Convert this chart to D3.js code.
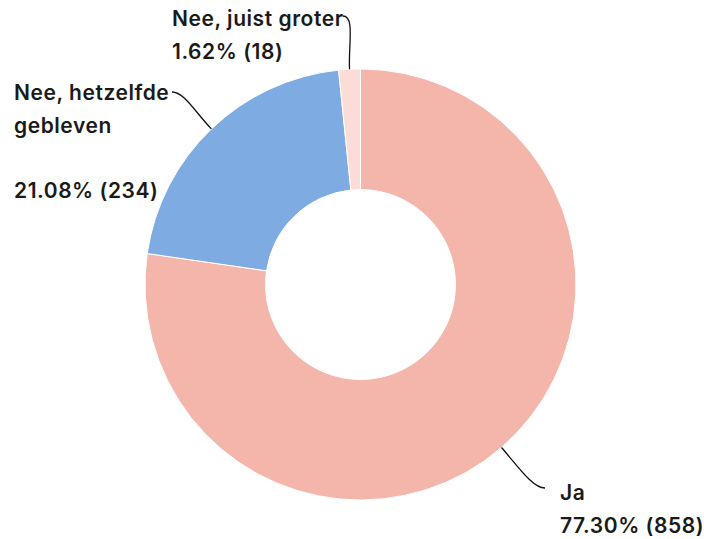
<!DOCTYPE html>
<html>
<head>
<meta charset="utf-8">
<script src="https://cdn.jsdelivr.net/npm/d3@7"></script>
<style>
  html, body { margin: 0; padding: 0; background: #fff; }
  svg text { font-family: Inter, Lato, sans-serif; font-weight: 600; font-size: 21px; letter-spacing: 0.55px; fill: #1a1a1a; }
</style>
</head>
<body>
<svg id="chart" width="704" height="539"></svg>
<script>
// Survey answers, in drawing order (clockwise from 12 o'clock)
const categories = ["Ja", "Nee, hetzelfde gebleven", "Nee, juist groter"];
const counts = [858, 234, 18];
const percentages = ["77.30%", "21.08%", "1.62%"];
const colors = ["#f4b5aa", "#7eabe2", "#fcdcd6"];

// Label text lines per slice (empty string = blank line)
const labelLines = [
  ["Ja", "77.30% (858)"],
  ["Nee, hetzelfde", "gebleven", "", "21.08% (234)"],
  ["Nee, juist groter", "1.62% (18)"]
];

const svg = d3.select("#chart");
const cx = 360.5, cy = 284.5;
const outerR = 215.5, innerR = 95;

const pie = d3.pie().sort(null).value(d => d);
const arcs = pie(counts);
const arc = d3.arc().innerRadius(innerR).outerRadius(outerR);

const g = svg.append("g").attr("transform", `translate(${cx},${cy})`);

g.selectAll("path.slice")
  .data(arcs)
  .join("path")
  .attr("class", "slice")
  .attr("d", arc)
  .attr("fill", (d, i) => colors[i])
  .attr("stroke", "#fff")
  .attr("stroke-width", 1);

// Label placement: baseline of first line and leader-line end point
const labelPos = [
  { x: 560, y: 500, lx: 545, ly: 488, side: "left" },
  { x: 14, y: 100, lx: 172, ly: 92, side: "right" },
  { x: 172, y: 26, lx: 343, ly: 16, side: "right" }
];

const lineH = 32.5;

arcs.forEach((d, i) => {
  const mid = (d.startAngle + d.endAngle) / 2;
  const sx = cx + outerR * Math.sin(mid);
  const sy = cy - outerR * Math.cos(mid);
  const p = labelPos[i];
  const ex = p.lx, ey = p.ly;
  const dist = Math.hypot(ex - sx, ey - sy);
  const c1x = sx + Math.sin(mid) * dist * 0.45;
  const c1y = sy - Math.cos(mid) * dist * 0.45;
  const dir = p.side === "left" ? -1 : 1;
  const c2x = ex + dir * Math.min(12, dist * 0.3);
  const c2y = ey;
  const path = d3.path();
  path.moveTo(sx, sy);
  path.bezierCurveTo(c1x, c1y, c2x, c2y, ex, ey);
  svg.append("path")
    .attr("d", path.toString())
    .attr("fill", "none")
    .attr("stroke", "#111")
    .attr("stroke-width", 1.3);

  const t = svg.append("text").attr("x", p.x).attr("y", p.y);
  labelLines[i].forEach((line, j) => {
    t.append("tspan").attr("x", p.x).attr("y", p.y + j * lineH).text(line);
  });
});
</script>
</body>
</html>
